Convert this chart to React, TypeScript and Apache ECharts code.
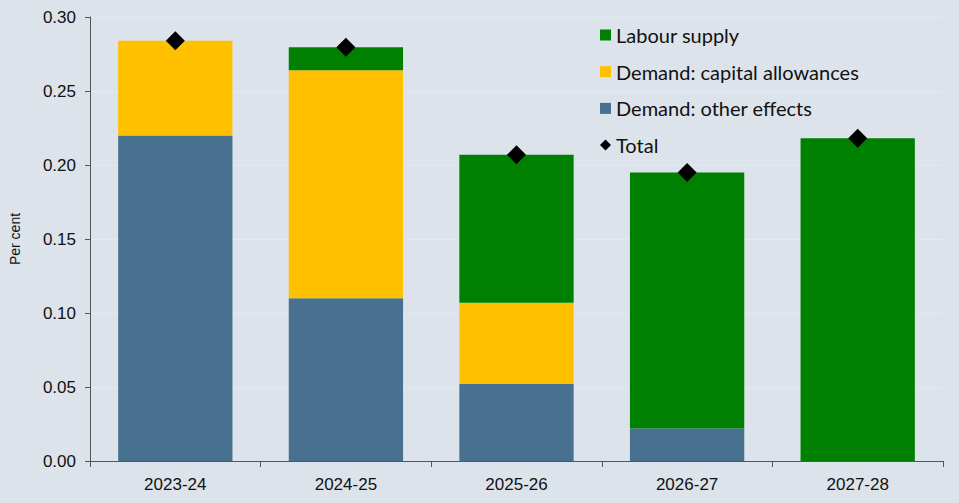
import React, { useEffect, useRef } from "react";
import * as echarts from "echarts";

const categories = ["2023-24", "2024-25", "2025-26", "2026-27", "2027-28"];
const otherEffects = [0.22, 0.11, 0.052, 0.022, 0];
const capitalAllowances = [0.064, 0.154, 0.055, 0, 0];
const labourSupply = [0, 0.0155, 0.1, 0.173, 0.218];
const total = [0.284, 0.2795, 0.207, 0.195, 0.218];

export default function App() {
  const ref = useRef<HTMLDivElement>(null);
  useEffect(() => {
    if (!ref.current) return;
    const chart = echarts.init(ref.current, undefined, { renderer: "svg" });
    const legendFont = { fontFamily: "Lato", fontSize: 20, color: "#111", lineHeight: 22 };
    chart.setOption({
      animation: false,
      backgroundColor: "#dce3ea",
      grid: { left: 88, right: 16, top: 17, bottom: 42 },
      legend: {
        orient: "vertical",
        left: 595,
        top: 19,
        itemWidth: 11,
        itemHeight: 11,
        itemGap: 14.7,
        textStyle: legendFont,
        data: [
          { name: "Labour supply", icon: "rect" },
          { name: "Demand: capital allowances", icon: "rect" },
          { name: "Demand: other effects", icon: "rect" },
          { name: "Total", icon: "diamond" },
        ],
      },
      xAxis: {
        type: "category",
        data: categories,
        axisLine: { lineStyle: { color: "#555", width: 1 } },
        axisTick: { show: true, length: 6, lineStyle: { color: "#555" } },
        axisLabel: { fontFamily: "Liberation Sans", fontSize: 17, color: "#111", margin: 15 },
        splitLine: { show: false },
      },
      yAxis: {
        type: "value",
        min: 0,
        max: 0.3,
        interval: 0.05,
        name: "Per cent",
        nameLocation: "middle",
        nameGap: 68,
        nameTextStyle: { fontFamily: "Liberation Sans", fontSize: 14, color: "#111" },
        axisLine: { show: true, lineStyle: { color: "#555", width: 1 } },
        axisTick: { show: true, length: 5, lineStyle: { color: "#555" } },
        axisLabel: {
          fontFamily: "Liberation Sans",
          fontSize: 17,
          color: "#111",
          margin: 14,
          formatter: (v: number) => v.toFixed(2),
        },
        splitLine: { show: true, lineStyle: { color: "#e4e9ee", width: 1 } },
      },
      series: [
        {
          name: "Demand: other effects",
          type: "bar",
          stack: "a",
          data: otherEffects,
          barCategoryGap: "33%",
          itemStyle: { color: "#47718f" },
        },
        {
          name: "Demand: capital allowances",
          type: "bar",
          stack: "a",
          data: capitalAllowances,
          itemStyle: { color: "#ffc000" },
        },
        {
          name: "Labour supply",
          type: "bar",
          stack: "a",
          data: labourSupply,
          itemStyle: { color: "#008000" },
        },
        {
          name: "Total",
          type: "scatter",
          data: total,
          symbol: "diamond",
          symbolSize: 19,
          itemStyle: { color: "#000", opacity: 1 },
          z: 5,
        },
      ],
    });
    return () => chart.dispose();
  }, []);
  return <div ref={ref} style={{ width: 959, height: 503, position: "absolute", left: 0, top: 0 }} />;
}
